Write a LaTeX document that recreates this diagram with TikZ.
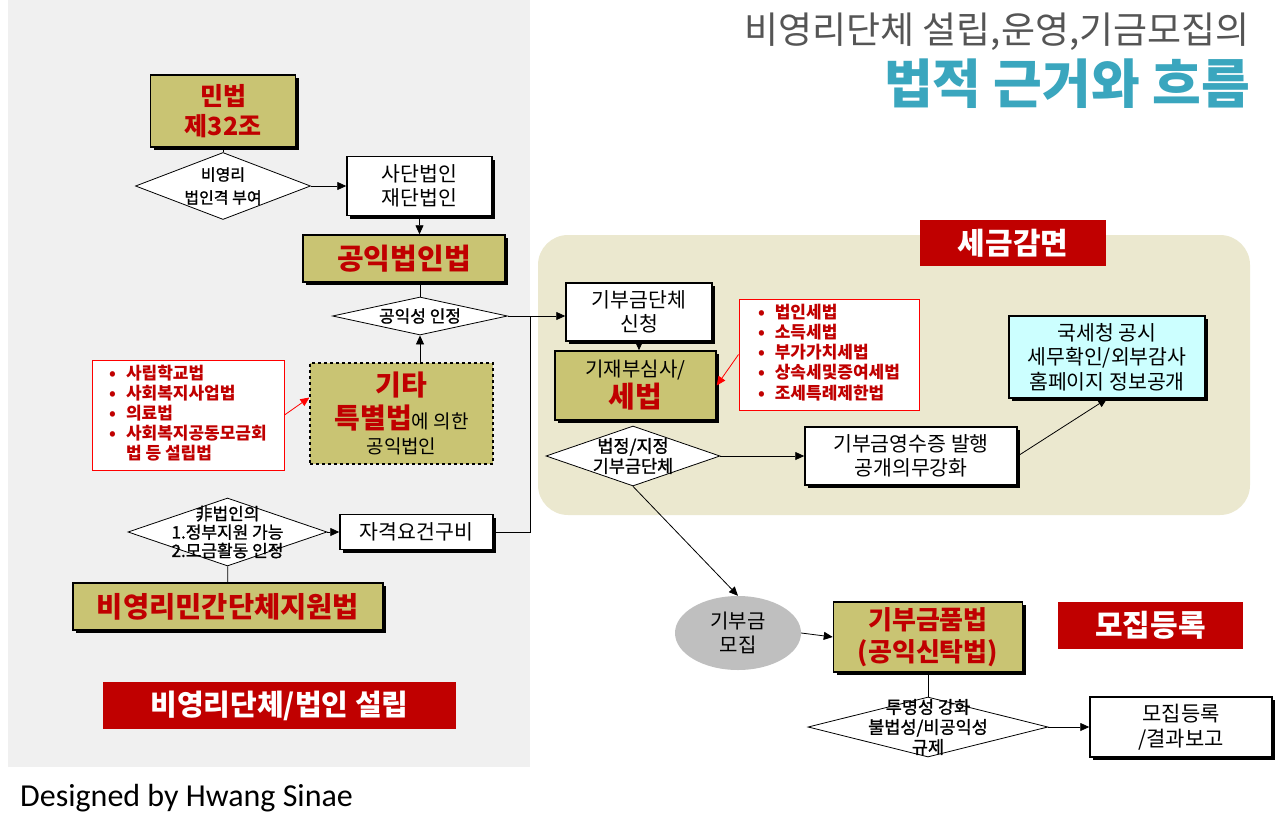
\documentclass[tikz,border=0pt]{standalone}
\usepackage{fontspec}
\setmainfont{Noto Sans CJK KR}
\newfontfamily\heavyfont[FakeBold=1.2]{Noto Sans CJK KR}
\newfontfamily\signfont{Carlito}
\usepackage{tikz}
\usetikzlibrary{arrows.meta,shapes.geometric,shadows}
\definecolor{olivebox}{RGB}{201,196,115}
\definecolor{darkred}{RGB}{192,0,0}
\definecolor{panelgray}{RGB}{240,240,240}
\definecolor{panelbeige}{RGB}{235,232,207}
\definecolor{skybox}{RGB}{204,255,255}
\definecolor{raisegray}{RGB}{191,191,191}
\definecolor{titlegray}{RGB}{85,85,85}
\definecolor{titleteal}{RGB}{58,166,190}
\newcommand{\fs}[2]{\fontsize{#1}{#2}\selectfont}

\begin{document}
\begin{tikzpicture}[x=1pt,y=-1pt,
  shd/.style={drop shadow={shadow xshift=3pt,shadow yshift=-3pt,fill=black,opacity=1}},
  box/.style={draw,line width=1.5pt,fill=white,align=center,inner sep=0pt,shd,font=\fs{20.5}{24.5}},
  lawbox/.style={box,fill=olivebox,text=darkred,font=\bfseries\fs{25}{30}},
  dia/.style={diamond,draw,fill=white,inner sep=0pt,line width=0.8pt},
  dtxt/.style={align=center,inner sep=0pt,font=\heavyfont\fs{17}{21}},
  banner/.style={fill=darkred,text=white,inner sep=0pt,font=\bfseries\fs{30}{34}},
  redlist/.style={draw=red,line width=1pt,fill=white,inner sep=0pt,text=darkred,font=\bfseries\fs{17}{19.3}},
  con/.style={line width=0.8pt,-{Triangle[length=9pt,width=8pt]}},
  redcon/.style={red,line width=0.8pt,-{Triangle[length=9pt,width=8pt]}}]
\useasboundingbox (0,0) rectangle (1280,835);
\fill[panelgray] (8,0) rectangle (530,767);
\fill[panelbeige,rounded corners=30pt] (538,235) rectangle (1250,515);

\node[anchor=east,inner sep=0pt,text=titlegray,font=\fs{37}{40}] (title) at (1250,32) {비영리단체 설립,운영,기금모집의};
\node[anchor=east,inner sep=0pt,text=titleteal,font=\bfseries\fs{53}{56}] (subtitle) at (1250,84) {법적 근거와 흐름};

\node[lawbox,minimum width=145pt,minimum height=72pt] (civil) at (223,111) {민법\\제32조};
\node[dia,minimum width=175pt,minimum height=67pt,label={[dtxt,font=\heavyfont\fs{16}{23}]center:비영리\\법인격 부여}] (grant) at (223,186) {};
\node[box,minimum width=145pt,minimum height=59pt] (corp) at (419.5,186) {사단법인\\재단법인};
\node[lawbox,minimum width=202pt,minimum height=47pt,font=\bfseries\fs{29}{32}] (pblaw) at (404,258.5) {공익법인법};
\node[dia,minimum width=175pt,minimum height=38pt,label={[dtxt]center:공익성 인정}] (pub) at (420,316) {};
\node[draw,dashed,line width=1.2pt,fill=olivebox,align=center,inner sep=0pt,minimum width=183pt,minimum height=101pt,font=\fs{19}{25}] (etc) at (401.5,413.5)
  {{\color{darkred}\bfseries\fs{28}{30}기타}\\[5pt]{\color{darkred}\bfseries\fs{28}{30}특별법}에 의한\\공익법인};
\node[redlist,minimum width=192pt,minimum height=110pt] (spec) at (188,415) {\begin{tabular}{@{}l@{\hspace{10pt}}l@{}}
  \textbullet & 사립학교법\\ \textbullet & 사회복지사업법\\ \textbullet & 의료법\\ \textbullet & 사회복지공동모금회\\ & 법 등 설립법\end{tabular}};
\node[dia,minimum width=199pt,minimum height=68pt,label={[dtxt,font=\heavyfont\fs{17}{18.5}]center:非법인의\\1.정부지원 가능\\2.모금활동 인정}] (nonc) at (227.5,532) {};
\node[box,minimum width=153pt,minimum height=35pt] (qual) at (416.5,532) {자격요건구비};
\node[lawbox,minimum width=310pt,minimum height=47pt,font=\bfseries\fs{28.5}{32}] (npo) at (228,606.5) {비영리민간단체지원법};
\node[banner,minimum width=353pt,minimum height=47pt,font=\bfseries\fs{29}{32}] (setup) at (279.5,705.5) {비영리단체/법인 설립};
\coordinate (jn) at (530,316);

\node[banner,minimum width=186pt,minimum height=46pt] (tax) at (1013,243) {세금감면};
\node[box,minimum width=146pt,minimum height=58pt] (apply) at (639,312) {기부금단체\\신청};
\node[lawbox,minimum width=161pt,minimum height=69pt,text=black,font=\fs{20}{24}] (review) at (635.5,385.5)
  {기재부심사/\\[2pt]{\color{darkred}\bfseries\fs{29}{30}세법}};
\node[redlist,minimum width=180pt,minimum height=111pt] (tlist) at (829,354.5) {\begin{tabular}{@{}l@{\hspace{10pt}}l@{}}
  \textbullet & 법인세법\\ \textbullet & 소득세법\\ \textbullet & 부가가치세법\\ \textbullet & 상속세및증여세법\\ \textbullet & 조세특례제한법\end{tabular}};
\node[dia,minimum width=174pt,minimum height=60pt,label={[dtxt,font=\heavyfont\fs{17.5}{20}]center:법정/지정\\기부금단체}] (desig) at (633,456) {};
\node[box,minimum width=212pt,minimum height=58pt] (receipt) at (911,456) {기부금영수증 발행\\공개의무강화};
\node[box,fill=skybox,minimum width=196pt,minimum height=82pt] (nts) at (1107,357) {국세청 공시\\세무확인/외부감사\\홈페이지 정보공개};

\node[ellipse,fill=raisegray,minimum width=126pt,minimum height=74pt,inner sep=0pt,align=center,font=\fs{20}{24}] (raise) at (738,633) {기부금\\모집};
\node[lawbox,minimum width=189pt,minimum height=70pt,font=\bfseries\fs{26}{32}] (fund) at (928,637) {기부금품법\\(공익신탁법)};
\node[banner,minimum width=185pt,minimum height=47pt] (reg) at (1150.5,625.5) {모집등록};
\node[dia,minimum width=240pt,minimum height=60pt,label={[dtxt,font=\heavyfont\fs{17.5}{20}]center:투명성 강화\\불법성/비공익성\\규제}] (trans) at (928,727) {};
\node[box,minimum width=182pt,minimum height=60pt,font=\fs{21}{25}] (report) at (1181,727) {모집등록\\/결과보고};

\node[anchor=west,inner sep=0pt,font=\signfont\fs{32}{34}] (sign) at (20,798) {Designed by Hwang Sinae};

\draw[line width=0.8pt] (civil) -- (grant);
\draw[con] (grant) -- (corp);
\draw[con] (corp.south) -- (corp.south |- pblaw.north);
\draw[line width=0.8pt] (pub.north |- pblaw.south) -- (pub.north);
\draw[con] (pub.south |- etc.north) -- (pub.south);
\draw[redcon] (spec.east) -- ([yshift=16pt]etc.west);
\draw[line width=0.8pt] (nonc) -- (npo);
\draw[con] (nonc) -- (qual);
\draw[line width=0.8pt] (qual.east) -| (jn);
\draw[con] (pub.east) -- (pub.east -| apply.west);
\draw[con] (apply.south) -- (apply.south |- review.north);
\draw[redcon] (tlist.west) -- (review.east);
\draw[con] (desig) -- (receipt);
\draw[con] (receipt.east) -- (nts.south);
\draw[con] (desig.south) -- (raise.north);
\draw[con] (raise.east) -- (fund.west);
\draw[line width=0.8pt] (fund) -- (trans);
\draw[con] (trans) -- (report);
\end{tikzpicture}
\end{document}
